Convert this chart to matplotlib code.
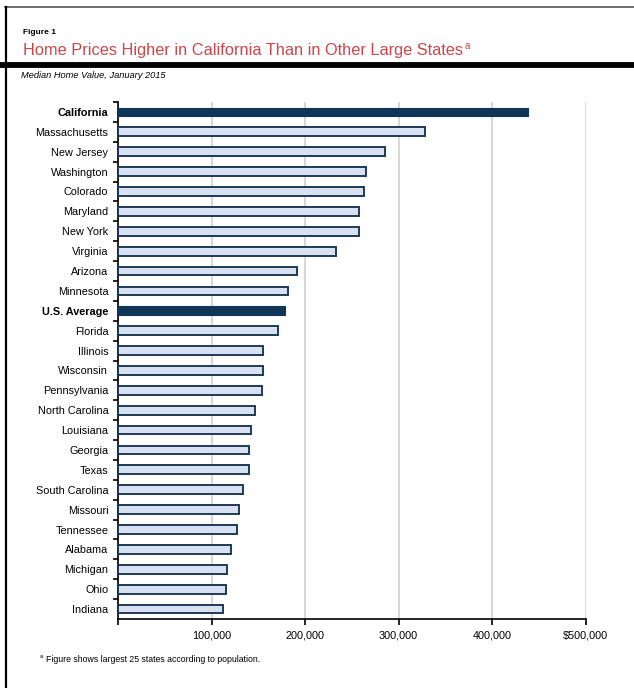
"""
Median home value by state, January 2015
"""

import matplotlib

matplotlib.use("Agg")
import matplotlib.pyplot as plt
from matplotlib.lines import Line2D

plt.rcParams["font.family"] = ["Liberation Sans", "DejaVu Sans"]

states = [
    "California", "Massachusetts", "New Jersey", "Washington", "Colorado",
    "Maryland", "New York", "Virginia", "Arizona", "Minnesota",
    "U.S. Average", "Florida", "Illinois", "Wisconsin", "Pennsylvania",
    "North Carolina", "Louisiana", "Georgia", "Texas", "South Carolina",
    "Missouri", "Tennessee", "Alabama", "Michigan", "Ohio", "Indiana",
]
values = [
    438000, 328000, 286000, 265000, 263000,
    258000, 258000, 233000, 191000, 182000,
    179000, 171000, 155000, 155000, 154000,
    146000, 142000, 140000, 140000, 134000,
    129000, 127000, 121000, 117000, 115000, 112000,
]
highlight = ["California", "U.S. Average"]
xticks = [0, 100000, 200000, 300000, 400000, 500000]
xlabels = ["", "100,000", "200,000", "300,000", "400,000", "$500,000"]

dark = "#0f3658"
light = "#d7e1f1"
edge = "#1d3a56"

W, H = 634, 688
fig = plt.figure(figsize=(W / 100, H / 100), dpi=100)
ax = fig.add_axes([118 / W, 1 - 619 / H, (585.5 - 118) / W, (619 - 102) / H])

ypos = list(range(len(states)))
for y, s, v in zip(ypos, states, values):
    if s in highlight:
        ax.barh(y, v, height=0.44, color=dark, edgecolor=dark, linewidth=0.8, zorder=3)
    else:
        ax.barh(y, v, height=0.44, color=light, edgecolor=edge, linewidth=1.4, zorder=3)

ax.set_ylim(len(states) - 0.5, -0.5)
ax.set_xlim(0, 500000)

# category labels, ticks sit between categories
ax.set_yticks([y + 0.5 for y in ypos[:-1]] + [-0.5], minor=False)
ax.set_yticklabels([])
ax.set_yticks(ypos, minor=True)
ax.set_yticklabels(states, minor=True)
ax.tick_params(axis="y", which="minor", length=0, pad=7, labelsize=7.8)
ax.tick_params(axis="y", which="major", length=3.5, width=1.2, direction="out")
for lab in ax.get_yticklabels(minor=True):
    if lab.get_text() in highlight:
        lab.set_fontweight("bold")

ax.set_xticks(xticks)
ax.set_xticklabels(xlabels)
ax.tick_params(axis="x", length=4, width=1.2, direction="out", labelsize=7.8, pad=4)

ax.grid(axis="x", color="#d4d4d4", linewidth=1.3, zorder=0)
ax.spines["top"].set_visible(False)
ax.spines["right"].set_visible(False)
ax.spines["left"].set_linewidth(1.2)
ax.spines["bottom"].set_linewidth(1.2)

# frame and header
fig.add_artist(Line2D([5 / W, 1], [1 - 7 / H, 1 - 7 / H], color="#555555", lw=1.2))
fig.add_artist(Line2D([5.5 / W, 5.5 / W], [1 - 7 / H, 0], color="black", lw=1.6))
fig.add_artist(Line2D([0, 1], [1 - 65 / H, 1 - 65 / H], color="black", lw=4.2))

fig.text(23 / W, 1 - 33 / H, "Figure 1", fontsize=6, fontweight="bold", va="center")
title = fig.text(23 / W, 1 - 51 / H, "Home Prices Higher in California Than in Other Large States",
                 fontsize=11.8, color="#c9474a", va="center")
ax.annotate("a", xy=(1, 0.85), xycoords=title, xytext=(1, 0), textcoords="offset points",
            fontsize=7, color="#c9474a", va="center", ha="left", annotation_clip=False)
fig.text(21 / W, 1 - 76 / H, "Median Home Value, January 2015", fontsize=6.7,
         style="italic", va="center")

note = fig.text(46 / W, 1 - 659 / H, "Figure shows largest 25 states according to population.",
                fontsize=6.3, va="center")
ax.annotate("a", xy=(0, 0.8), xycoords=note, xytext=(-2, 0), textcoords="offset points",
            fontsize=4.2, va="center", ha="right", annotation_clip=False)

fig.savefig("out.png", dpi=100)
